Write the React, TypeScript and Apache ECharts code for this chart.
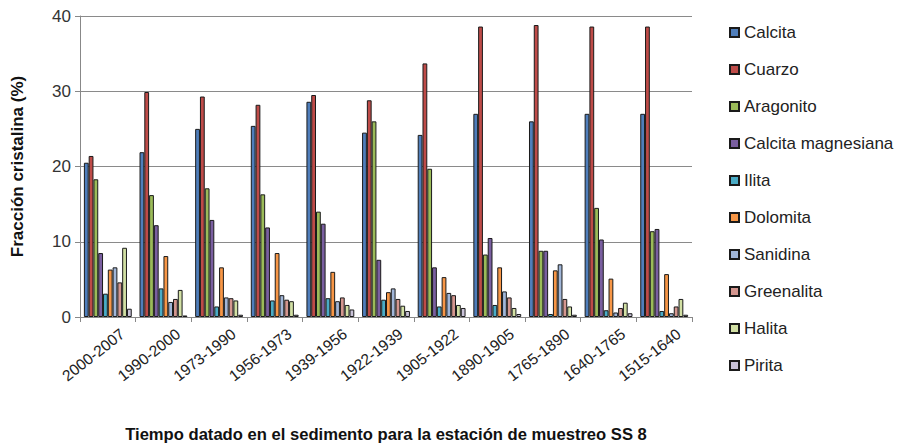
import React, { useEffect, useRef } from "react";
import * as echarts from "echarts";

const categories = ["2000-2007", "1990-2000", "1973-1990", "1956-1973", "1939-1956", "1922-1939", "1905-1922", "1890-1905", "1765-1890", "1640-1765", "1515-1640"];
const seriesNames = ["Calcita", "Cuarzo", "Aragonito", "Calcita magnesiana", "Ilita", "Dolomita", "Sanidina", "Greenalita", "Halita", "Pirita"];
const calcita = [20.5, 21.9, 25.0, 25.4, 28.6, 24.5, 24.2, 27.0, 26.0, 27.0, 27.0];
const cuarzo = [21.4, 29.9, 29.3, 28.2, 29.5, 28.8, 33.7, 38.6, 38.8, 38.6, 38.6];
const aragonito = [18.3, 16.2, 17.1, 16.3, 14.0, 26.0, 19.7, 8.3, 8.8, 14.5, 11.4];
const calcitaMag = [8.5, 12.2, 12.9, 11.9, 12.4, 7.6, 6.6, 10.5, 8.8, 10.3, 11.7];
const ilita = [3.1, 3.8, 1.4, 2.2, 2.5, 2.3, 1.4, 1.6, 0.4, 0.9, 0.8];
const dolomita = [6.3, 8.1, 6.6, 8.5, 6.0, 3.3, 5.3, 6.6, 6.2, 5.1, 5.7];
const sanidina = [6.6, 2.0, 2.6, 2.9, 2.1, 3.8, 3.2, 3.4, 7.0, 0.6, 0.5];
const greenalita = [4.6, 2.4, 2.5, 2.3, 2.6, 2.4, 2.9, 2.6, 2.4, 1.2, 1.4];
const halita = [9.2, 3.6, 2.2, 2.1, 1.6, 1.5, 1.6, 1.2, 1.4, 1.9, 2.4];
const pirita = [1.1, 0.2, 0.3, 0.3, 1.0, 0.8, 1.2, 0.4, 0.3, 0.5, 0.3];
const seriesValues = [calcita, cuarzo, aragonito, calcitaMag, ilita, dolomita, sanidina, greenalita, halita, pirita];
const colors = ["#4F7EBB", "#BE4B48", "#9BBB59", "#7A5FA0", "#4AACC6", "#F79646", "#A1B6D8", "#D4968F", "#D2E0A4", "#C9C2D8"];

export default function App() {
  const ref = useRef<HTMLDivElement>(null);
  useEffect(() => {
    if (!ref.current) return;
    const chart = echarts.init(ref.current, null, { renderer: "svg" });
    const font = "'Liberation Sans', Arial, sans-serif";
    chart.setOption({
      animation: false,
      backgroundColor: "#ffffff",
      textStyle: { fontFamily: font },
      grid: { left: 80, right: 228, top: 16, bottom: 127, containLabel: false },
      legend: {
        orient: "vertical",
        left: 724,
        top: 19,
        itemWidth: 9,
        itemHeight: 9,
        itemGap: 20,
        icon: "rect",
        textStyle: { fontSize: 17, color: "#222", fontFamily: font },
        data: seriesNames,
      },
      xAxis: {
        type: "category",
        data: categories,
        name: "Tiempo datado en el sedimento para la estación de muestreo SS 8",
        nameLocation: "middle",
        nameGap: 109,
        nameTextStyle: { fontSize: 16.6, fontWeight: "bold", color: "#111", fontFamily: font },
        axisLine: { lineStyle: { color: "#888", width: 1 } },
        axisTick: { show: true, alignWithLabel: false, length: 5, lineStyle: { color: "#888" } },
        axisLabel: { rotate: 38, fontSize: 15.5, color: "#222", margin: 6, verticalAlign: "top", padding: [8, -6, 0, 0], interval: 0, fontFamily: font },
      },
      yAxis: {
        type: "value",
        min: 0,
        max: 40,
        interval: 10,
        name: "Fracción cristalina (%)",
        nameLocation: "middle",
        nameGap: 54,
        nameTextStyle: { fontSize: 17, fontWeight: "bold", color: "#111", fontFamily: font },
        axisLine: { show: true, lineStyle: { color: "#888", width: 1 } },
        axisTick: { show: true, length: 5, lineStyle: { color: "#888" } },
        axisLabel: { fontSize: 17, color: "#333", margin: 9, fontFamily: font },
        splitLine: { show: true, lineStyle: { color: "#8a8a8a", width: 1 } },
      },
      series: seriesNames.map((name, i) => ({
        name,
        type: "bar",
        data: seriesValues[i],
        barGap: "0%",
        barCategoryGap: "14%",
        itemStyle: { color: colors[i], borderColor: "#1a1a1a", borderWidth: 1 },
      })),
    });
    return () => chart.dispose();
  }, []);
  return <div ref={ref} style={{ position: "fixed", left: 0, top: 0, width: 920, height: 448 }} />;
}
